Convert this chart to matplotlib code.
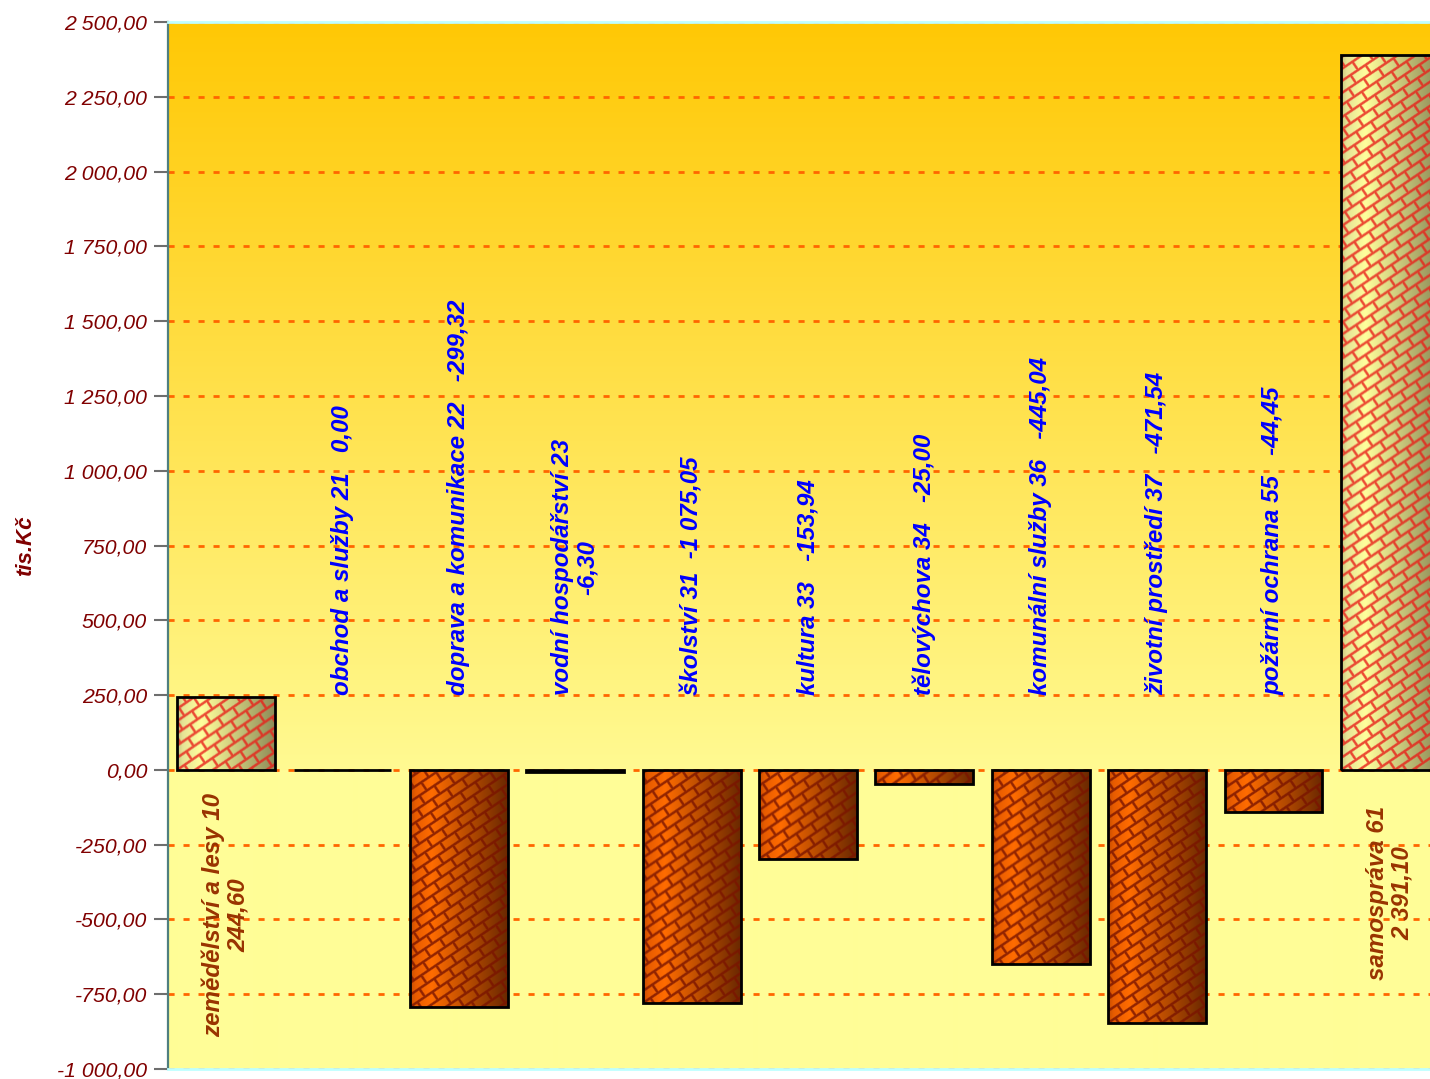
import numpy as np
import matplotlib
matplotlib.use("Agg")
import matplotlib.pyplot as plt
from matplotlib.colors import to_rgb

plt.rcParams['font.family'] = ['Liberation Sans', 'DejaVu Sans']

# ---------------- data ----------------
categories = ["zemědělství a lesy 10", "obchod a služby 21", "doprava a komunikace 22",
              "vodní hospodářství 23", "školství 31", "kultura 33", "tělovýchova 34",
              "komunální služby 36", "životní prostředí 37", "požární ochrana 55",
              "samospráva 61"]
values = [244.6, 0.0, -792.0, -6.3, -779.0, -298.0, -47.0, -650.0, -845.0, -140.0, 2391.1]
value_labels = ["244,60", "0,00", "-299,32", "-6,30", "-1 075,05", "-153,94", "-25,00",
                "-445,04", "-471,54", "-44,45", "2 391,10"]
label_separators = ["\n", "   ", "   ", "\n", "  ", "   ", "   ", "   ", "   ", "   ", "\n"]
y_ticks = [-1000, -750, -500, -250, 0, 250, 500, 750, 1000, 1250, 1500, 1750, 2000, 2250, 2500]
y_tick_labels = ["-1 000,00", "-750,00", "-500,00", "-250,00", "0,00", "250,00", "500,00",
                 "750,00", "1 000,00", "1 250,00", "1 500,00", "1 750,00", "2 000,00",
                 "2 250,00", "2 500,00"]
y_axis_label = "tis.Kč"

# ---------------- figure ----------------
W, H = 1430, 1079
fig = plt.figure(figsize=(W / 100, H / 100), dpi=100)
fig.patch.set_facecolor('white')
ax = fig.add_axes([168 / W, 10 / H, 1280 / W, 1047 / H])
n = len(categories)
ax.set_xlim(-0.5, n - 0.5)
ax.set_ylim(y_ticks[0], y_ticks[-1])

# background gradient
ymin, ymax = y_ticks[0], y_ticks[-1]
ys = np.linspace(ymin, ymax, 1047)
top = np.array(to_rgb('#FFC805'))
mid = np.array(to_rgb('#FFFA92'))
low = np.array(to_rgb('#FFFD97'))
bg = np.zeros((len(ys), 1, 3))
for i, yv in enumerate(ys):
    if yv <= 0:
        bg[i, 0] = low
    else:
        f = yv / ymax
        bg[i, 0] = mid * (1 - f) + top * f
ax.imshow(bg, extent=(-0.5, n - 0.5, ymin, ymax), origin='lower', aspect='auto',
          zorder=0, interpolation='bilinear')

# grid
ax.set_axisbelow(True)
ax.yaxis.grid(True, color='#FF6600', linestyle=(0, (2.2, 3.2)), linewidth=2)
ax.xaxis.grid(False)

# spines
ax.spines['left'].set_color('#4F7F7F')
ax.spines['left'].set_linewidth(1.6)
ax.spines['top'].set_color('#BFFFFF')
ax.spines['top'].set_linewidth(2)
ax.spines['bottom'].set_color('#BFFFFF')
ax.spines['bottom'].set_linewidth(2)
ax.spines['right'].set_visible(False)

ax.set_xticks([])
ax.set_yticks(y_ticks, labels=y_tick_labels, fontstyle='italic')
ax.tick_params(axis='y', length=10, width=1.5, color='#6E6E6E', pad=5,
               labelsize=15.3, labelcolor='#800000')
ax.set_ylabel(y_axis_label, fontsize=16, fontweight='bold', fontstyle='italic',
              color='#800000')
ax.yaxis.set_label_coords(-0.103, 0.5)

# bars
x = np.arange(n)
bars = ax.bar(x, values, width=0.84, facecolor='none', edgecolor='black',
              linewidth=2.0, zorder=3)


def texture(wpx, hpx, stops, colors, line_rgb):
    cols = np.arange(wpx) + 0.5
    rows = np.arange(hpx) + 0.5
    X, Y = np.meshgrid(cols, rows)
    t = X / wpx
    cs = [to_rgb(c) for c in colors]
    base = np.stack([np.interp(t, stops, [c[k] for c in cs]) for k in range(3)], -1)
    th = np.deg2rad(34)
    u = X * np.cos(th) + Y * np.sin(th)
    v = -X * np.sin(th) + Y * np.cos(th)
    sp, L = 10.0, 18.0
    vr = v / sp
    dv = np.abs((vr + 0.5) % 1 - 0.5) * sp
    row = np.floor(vr)
    uu = u + (row % 2) * L / 2
    du = np.abs((uu / L + 0.5) % 1 - 0.5) * L
    d = np.minimum(dv, du)
    a = np.clip(1.5 - d * 0.8, 0, 1) * 0.8
    line = np.array(to_rgb(line_rgb))
    img = base * (1 - a[..., None]) + line * a[..., None]
    return np.clip(img, 0, 1)


fig.canvas.draw()
for b, val in zip(bars, values):
    x0, w = b.get_x(), b.get_width()
    y0, h = b.get_y(), b.get_height()
    y1 = y0 + h
    p0 = ax.transData.transform((x0, min(y0, y1)))
    p1 = ax.transData.transform((x0 + w, max(y0, y1)))
    wpx = int(round(p1[0] - p0[0]))
    hpx = int(round(p1[1] - p0[1]))
    if hpx < 3:
        continue
    if val >= 0:
        img = texture(wpx, hpx, [0, 0.06, 0.25, 1.0],
                      ['#C8C47A', '#E6E496', '#FFFF9C', '#8E8C58'], '#E8201A')
    else:
        img = texture(wpx, hpx, [0, 0.06, 0.22, 1.0],
                      ['#C44C00', '#E85C00', '#FF6C00', '#6A2800'], '#7A1400')
    im = ax.imshow(img, extent=(x0, x0 + w, min(y0, y1), max(y0, y1)), origin='lower',
                   aspect='auto', interpolation='bilinear', zorder=2.5)
    im.set_clip_path(b)

# labels
pos_label_y = {0: -485, 10: -411}
for i, (cat, vl, sep, val) in enumerate(zip(categories, value_labels, label_separators, values)):
    txt = cat + sep + vl
    if val > 0:
        ax.text(i, pos_label_y[i], txt, rotation=90, ha='center', va='center',
                multialignment='center', color='#993300', fontsize=17.4,
                fontweight='bold', fontstyle='italic', zorder=4, linespacing=1.1)
    else:
        ax.text(i, 250, txt, rotation=90, ha='center', va='bottom',
                multialignment='center', color='#0000FF', fontsize=17.4,
                fontweight='bold', fontstyle='italic', zorder=4, linespacing=1.1)

fig.savefig('out.png', dpi=100)
